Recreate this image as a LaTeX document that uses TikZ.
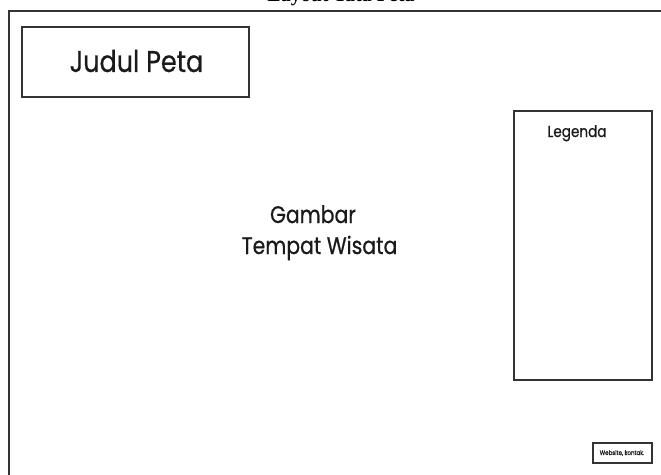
\documentclass[tikz,border=0pt]{standalone}
\usepackage{fontspec}
\setmainfont[FakeStretch=0.85,FakeBold=0.6]{Poppins}
\newfontfamily\titlefont{Liberation Serif}
\definecolor{ink}{HTML}{333333}
\definecolor{txt}{HTML}{1a1a1a}
\begin{document}
\begin{tikzpicture}[x=1pt,y=-1pt,
  frame/.style={draw=ink,line width=2pt},
  boxthin/.style={draw=ink,line width=1.5pt},
  lbl/.style={text=txt,inner sep=0pt}]
\useasboundingbox (0,0) rectangle (661,474);
% clipped heading
\node[anchor=base,inner sep=0pt,font=\titlefont\bfseries\fontsize{20}{24}\selectfont] (heading) at (341,1) {Layout Tata Peta};
% outer frame (right and bottom beyond the page)
\coordinate (fbl) at (8.5,480);
\coordinate (ftl) at (8.5,11);
\coordinate (ftr) at (668,11);
\draw[frame] (fbl) -- (ftl) -- (ftr);
% title box
\node[frame,minimum width=227pt,minimum height=70pt,inner sep=0pt] (judul) at (135.5,62) {};
\node[lbl,font=\fontsize{30}{36}\selectfont] (judultxt) at (136.5,61) {Judul Peta};
% centre text
\node[lbl,anchor=base,font=\fontsize{24}{29}\selectfont] (gambar1) at (313,223) {Gambar};
\node[lbl,anchor=base,font=\fontsize{24}{29}\selectfont] (gambar2) at (319.5,254) {Tempat Wisata};
% legend box
\node[boxthin,minimum width=138pt,minimum height=269pt,inner sep=0pt] (legenda) at (583,245.5) {};
\node[lbl,anchor=base,font=\fontsize{16}{19}\selectfont] (legtxt) at (577,137) {Legenda};
% website box
\node[boxthin,minimum width=59pt,minimum height=20pt,inner sep=0pt] (web) at (622.5,453) {};
\node[lbl,font=\fontsize{6.5}{8}\selectfont] (webtxt) at (622,453) {Website, kontak.};
\end{tikzpicture}
\end{document}
